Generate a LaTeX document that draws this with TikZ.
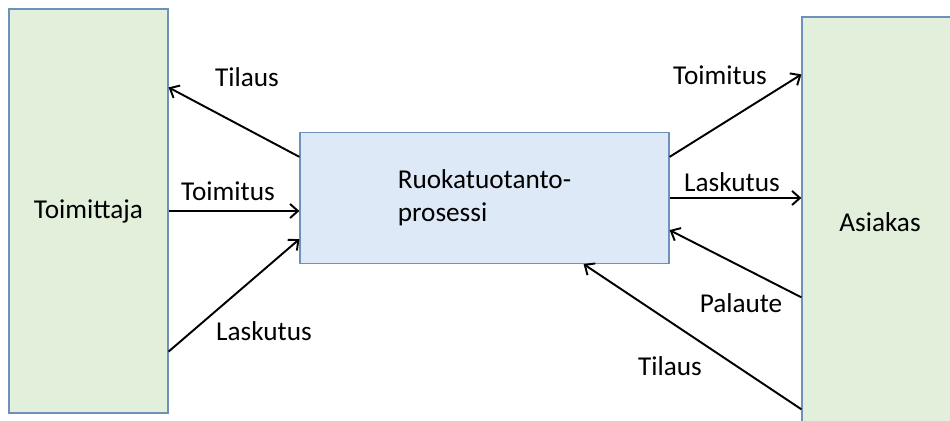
\documentclass[tikz,border=0pt]{standalone}
\usepackage{fontspec}
\setmainfont{Carlito}
\usetikzlibrary{arrows.meta,calc}
\definecolor{boxgreen}{RGB}{226,239,218}
\definecolor{boxblue}{RGB}{221,233,246}
\definecolor{boxline}{RGB}{110,145,188}

\begin{document}
\begin{tikzpicture}[x=0.02cm,y=-0.02cm,
box/.style={draw=boxline,line width=0.7pt,inner sep=0pt,font=\fontsize{15.5}{19}\selectfont},
flow/.style={-{Straight Barb[length=4.5pt,width=8pt]},line width=1.1pt},
lbl/.style={font=\fontsize{15.5}{19}\selectfont,inner sep=0pt}]
\useasboundingbox (0,0) rectangle (950,421);
\clip (0,0) rectangle (950,421);
\node[box,fill=boxgreen,minimum width=3.18cm,minimum height=8.08cm](sup) at (88.5,211){Toimittaja};
\node[box,fill=boxblue,minimum width=7.38cm,minimum height=2.62cm,align=left](proc) at (484.5,198){Ruokatuotanto-\\prosessi};
\node[box,fill=boxgreen,minimum width=3.12cm,minimum height=8.22cm](cust) at (880,222.5){Asiakas};

\draw[flow]([yshift=-0.5cm]proc.north west)--([yshift=-1.58cm]sup.north east);
\draw[flow](sup.east)--(sup.east -| proc.west);
\draw[flow]([yshift=1.24cm]sup.south east)--([yshift=0.5cm]proc.south west);
\draw[flow]([yshift=-0.5cm]proc.north east)--([yshift=-1.16cm]cust.north west);
\draw[flow](proc.east)--(proc.east -| cust.west);
\draw[flow]([yshift=-5.62cm]cust.north west)--([yshift=0.68cm]proc.south east);
\draw[flow]([yshift=-7.86cm]cust.north west)--([xshift=-1.72cm]proc.south east);

\node[lbl](tilausA) at (247,77){Tilaus};
\node[lbl](toimitusA) at (228,191){Toimitus};
\node[lbl](laskutusA) at (264,331){Laskutus};
\node[lbl](toimitusB) at (720,75){Toimitus};
\node[lbl](laskutusB) at (732,182){Laskutus};
\node[lbl](palaute) at (741,303){Palaute};
\node[lbl](tilausB) at (670,366){Tilaus};
\end{tikzpicture}
\end{document}
